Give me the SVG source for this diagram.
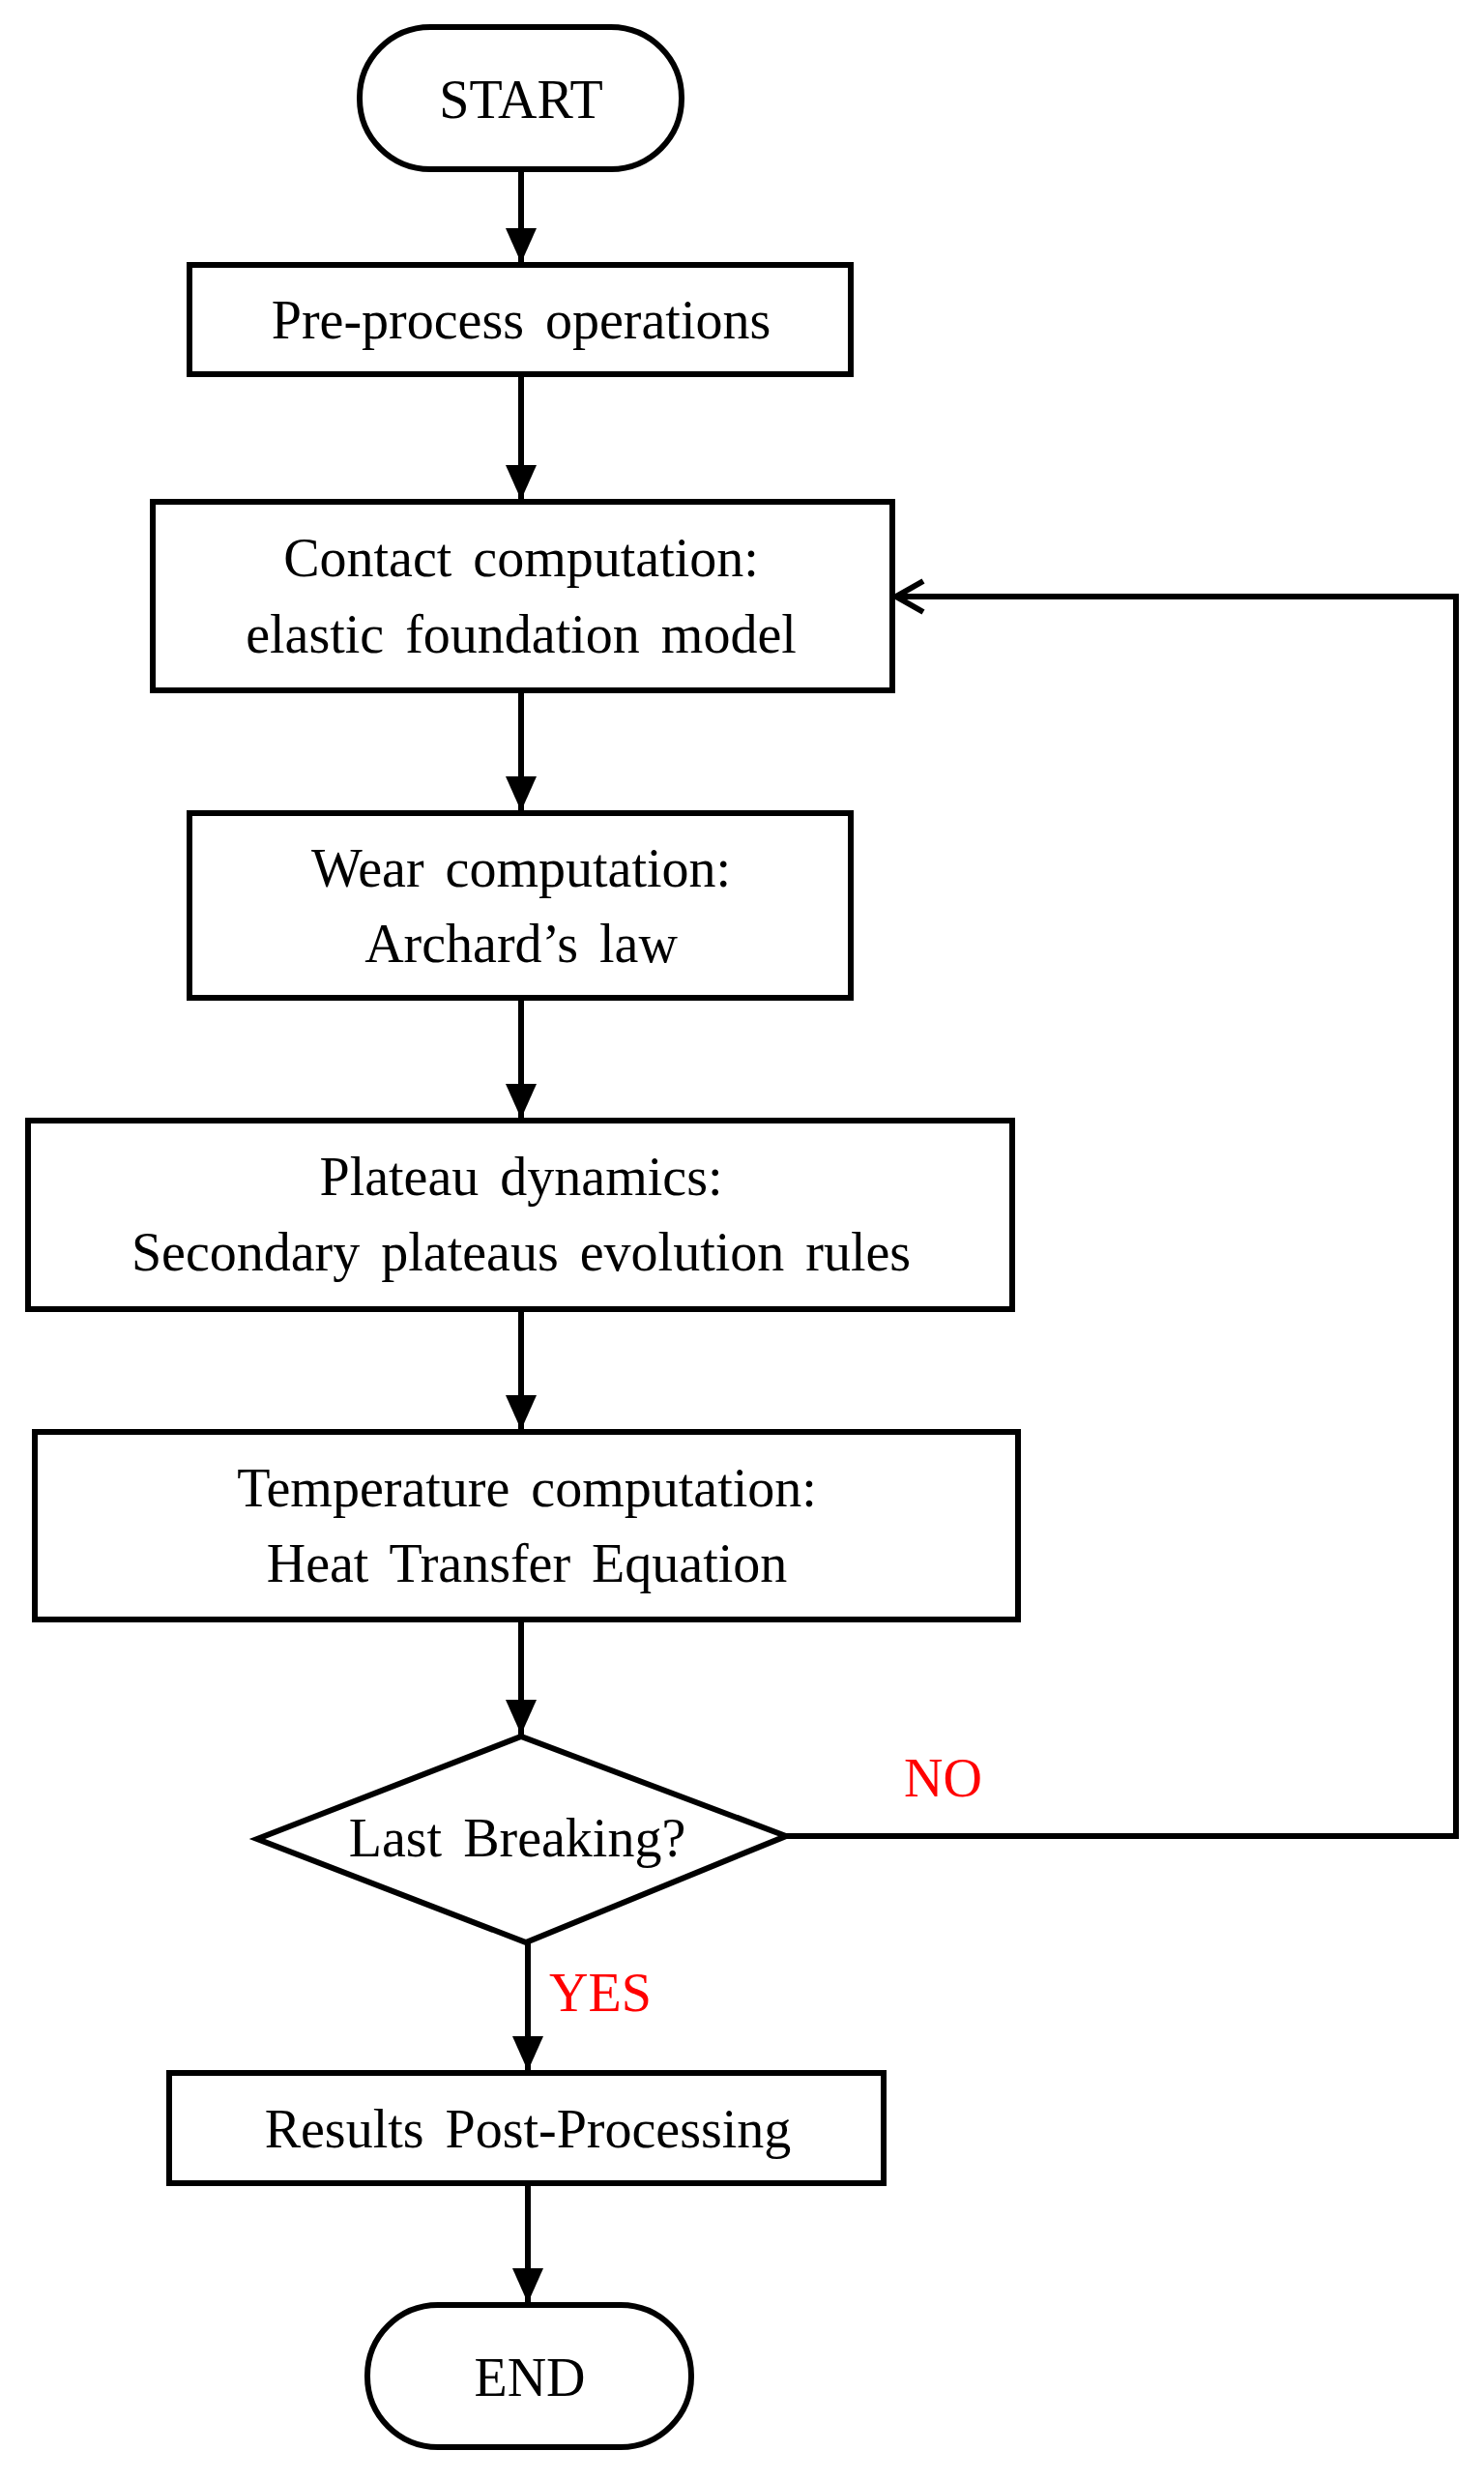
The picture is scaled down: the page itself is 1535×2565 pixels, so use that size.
<svg xmlns="http://www.w3.org/2000/svg" width="1535" height="2565" viewBox="0 0 1535 2565">
<style>
.b{fill:#fff;stroke:#000;stroke-width:6}
.t{font-family:"Liberation Serif",serif;font-size:56px;text-anchor:middle;fill:#000;word-spacing:8px}
.r{font-family:"Liberation Serif",serif;font-size:56px;fill:#f00}
.c{fill:none;stroke:#000;stroke-width:6}
</style>
<defs>
<marker id="a" markerUnits="userSpaceOnUse" markerWidth="40" markerHeight="40" refX="36" refY="20" orient="auto"><path d="M0,4 L36,20 L0,36 Z" fill="#000"/></marker>
<marker id="o" markerUnits="userSpaceOnUse" markerWidth="40" markerHeight="40" refX="36" refY="20" orient="auto"><path d="M8,4 L36,20 L8,36" fill="none" stroke="#000" stroke-width="6"/></marker>
</defs>
<rect width="1535" height="2565" fill="#fff"/>
<g id="connectors">
<line class="c" x1="539" y1="175" x2="539" y2="272" marker-end="url(#a)"/>
<line class="c" x1="539" y1="387" x2="539" y2="517" marker-end="url(#a)"/>
<line class="c" x1="539" y1="714" x2="539" y2="839" marker-end="url(#a)"/>
<line class="c" x1="539" y1="1032" x2="539" y2="1157" marker-end="url(#a)"/>
<line class="c" x1="539" y1="1354" x2="539" y2="1479" marker-end="url(#a)"/>
<line class="c" x1="539" y1="1675" x2="539" y2="1794" marker-end="url(#a)"/>
<line class="c" x1="546" y1="2009" x2="546" y2="2142" marker-end="url(#a)"/>
<line class="c" x1="546" y1="2258" x2="546" y2="2382" marker-end="url(#a)"/>
<polyline class="c" points="813,1899 1506,1899 1506,617 927,617" marker-end="url(#o)"/>
<text class="r" x="935" y="1858">NO</text>
<text class="r" x="568" y="2080">YES</text>
</g>
<g id="start"><rect class="b" x="372" y="28" width="333" height="147" rx="73"/><text class="t" x="539" y="122">START</text></g>
<g id="pre"><rect class="b" x="196" y="274" width="684" height="113"/><text class="t" x="539" y="350">Pre-process operations</text></g>
<g id="contact"><rect class="b" x="158" y="519" width="765" height="195"/><text class="t" x="539" y="596">Contact computation:</text><text class="t" x="539" y="675">elastic foundation model</text></g>
<g id="wear"><rect class="b" x="196" y="841" width="684" height="191"/><text class="t" x="539" y="917">Wear computation:</text><text class="t" x="539" y="995">Archard’s law</text></g>
<g id="plateau"><rect class="b" x="29" y="1159" width="1018" height="195"/><text class="t" x="539" y="1236">Plateau dynamics:</text><text class="t" x="539" y="1314">Secondary plateaus evolution rules</text></g>
<g id="temp"><rect class="b" x="36" y="1481" width="1017" height="194"/><text class="t" x="545" y="1558">Temperature computation:</text><text class="t" x="545" y="1636">Heat Transfer Equation</text></g>
<g id="decision"><polygon class="b" points="266,1902 539,1796 813,1899 544,2009"/><text class="t" x="535" y="1920">Last Breaking?</text></g>
<g id="results"><rect class="b" x="175" y="2144" width="739" height="114"/><text class="t" x="546" y="2221">Results Post-Processing</text></g>
<g id="end"><rect class="b" x="380" y="2384" width="335" height="147" rx="73"/><text class="t" x="548" y="2478">END</text></g>
</svg>
